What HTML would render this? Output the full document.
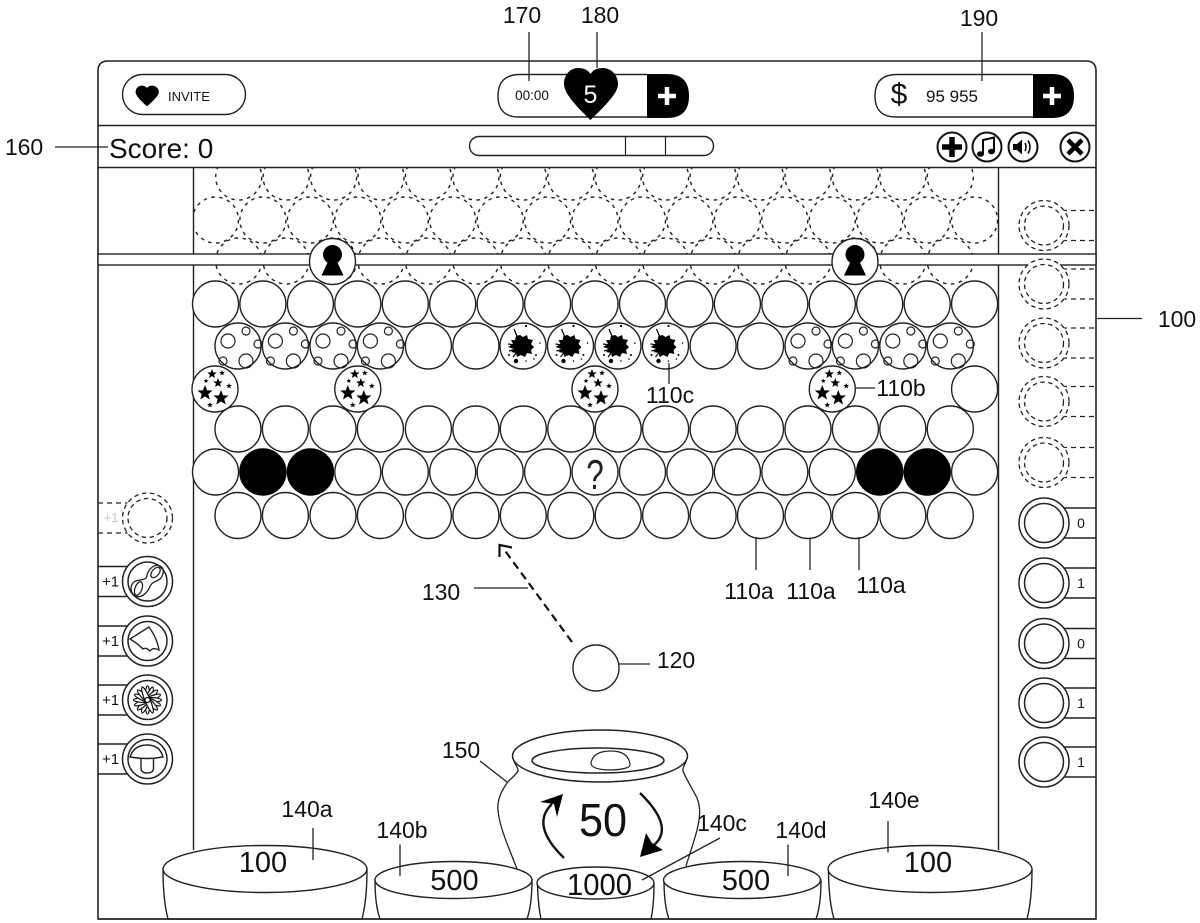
<!DOCTYPE html>
<html lang="en">
<head>
<meta charset="utf-8">
<title>Game diagram</title>
<style>
html,body{margin:0;padding:0;background:#fff}
svg{display:block}
text{font-family:"Liberation Sans",sans-serif;fill:#111}
.l{font-size:23px;text-anchor:middle}
.t{font-size:14px;text-anchor:middle}
.p{font-size:15px;text-anchor:middle}
</style>
</head>
<body>
<svg xmlns="http://www.w3.org/2000/svg" width="1200" height="923" viewBox="0 0 1200 923">
<defs>
<clipPath id="field"><rect x="194" y="168" width="804" height="120"/></clipPath>
<circle id="b" r="23" fill="#fff" stroke="#222" stroke-width="1.4"/>
<circle id="k" r="23" fill="#000" stroke="#000" stroke-width="1.4"/>
<circle id="d" r="23" fill="none" stroke="#222" stroke-width="1.4" stroke-dasharray="3.5 4.5"/>
<polygon id="st" points="0,-1 .26,-.33 .95,-.31 .41,.13 .59,.81 0,.42 -.59,.81 -.41,.13 -.95,-.31 -.26,-.33" fill="#000"/>
<g id="planet">
<use href="#b"/>
<g fill="none" stroke="#222" stroke-width="1.2">
<circle cx="-10" cy="-5" r="7"/><circle cx="8" cy="-15" r="4"/><circle cx="20" cy="-2" r="4"/><circle cx="8" cy="15" r="7"/><circle cx="-15" cy="15" r="4"/>
</g>
</g>
<g id="stars">
<use href="#b"/>
<use href="#st" transform="translate(-3,-15) scale(5)"/>
<use href="#st" transform="translate(3,-6) scale(5)"/>
<use href="#st" transform="translate(-10,4) scale(8)"/>
<use href="#st" transform="translate(6,9) scale(8)"/>
<use href="#st" transform="translate(7,-16) scale(3)"/>
<use href="#st" transform="translate(14,-3) scale(3)"/>
<use href="#st" transform="translate(-5,16) scale(3)"/>
<use href="#st" transform="translate(-9,-8) scale(2.5)"/>
</g>
<g id="splat">
<use href="#b"/>
<polygon fill="#000" points="-3,-11 0,-9 4,-11 5,-7 10,-6 8,-2 11,1 8,4 9,8 4,7 2,11 -2,9 -6,11 -7,7 -12,6 -9,3 -15,1 -10,-2 -12,-6 -8,-6 -7,-10"/>
<path d="M-9,-17 L-4,-5 M-15,-2 L-8,-1 M-14,5 L-7,3 M-10,11 L-6,6" stroke="#000" stroke-width="1.2"/>
<g fill="#000"><circle cx="-7" cy="15" r="2.2"/><circle cx="3" cy="-20" r="1.1"/><circle cx="13" cy="9" r="1"/><circle cx="17" cy="-3" r=".8"/><circle cx="-14" cy="9" r="1"/><circle cx="3" cy="15" r=".8"/><circle cx="11" cy="13" r=".8"/></g>
</g>
<g id="ring">
<circle r="25" fill="#fff" stroke="#222" stroke-width="1.5"/>
<circle r="19.5" fill="#fff" stroke="#222" stroke-width="1.5"/>
</g>
<g id="dring">
<circle r="25" fill="#fff" stroke="#222" stroke-width="1.3" stroke-dasharray="4.5 3.5"/>
<circle r="19.5" fill="#fff" stroke="#222" stroke-width="1.3" stroke-dasharray="4.5 3.5"/>
</g>
<path id="tabR" d="M1062,-15H1096M1062,15H1096" fill="none" stroke="#222" stroke-width="1.4"/>
<path id="dtabR" d="M1062,-15H1096M1062,15H1096" fill="none" stroke="#222" stroke-width="1.2" stroke-dasharray="5 4"/>
<path id="tabL" d="M98,-15H132M98,15H132" fill="none" stroke="#222" stroke-width="1.4"/>
<path id="heart" d="M590.5,120C575,105 564,93 564,84C564,74 571,68 578,68C584,68 588,70 590.5,74C593,70 597,68 603,68C610,68 618,74 618,84C618,93 606,105 590.5,120Z"/>
<g id="lock">
<use href="#b"/>
<circle cy="-7" r="9.5" fill="#000"/>
<polygon points="-3,-3 3,-3 11,14 -11,14" fill="#000"/>
</g>
</defs>

<!-- dashed ghost rows -->
<g clip-path="url(#field)">
<g transform="translate(0,177)"><use href="#d" x="238.7"/><use href="#d" x="286.1"/><use href="#d" x="333.6"/><use href="#d" x="381"/><use href="#d" x="428.4"/><use href="#d" x="475.9"/><use href="#d" x="523.3"/><use href="#d" x="570.8"/><use href="#d" x="618.2"/><use href="#d" x="665.6"/><use href="#d" x="713.1"/><use href="#d" x="760.5"/><use href="#d" x="808"/><use href="#d" x="855.4"/><use href="#d" x="902.8"/><use href="#d" x="950.3"/></g>
<g transform="translate(0,220)"><use href="#d" x="215.5"/><use href="#d" x="262.9"/><use href="#d" x="310.4"/><use href="#d" x="357.8"/><use href="#d" x="405.3"/><use href="#d" x="452.7"/><use href="#d" x="500.2"/><use href="#d" x="547.6"/><use href="#d" x="595"/><use href="#d" x="642.5"/><use href="#d" x="689.9"/><use href="#d" x="737.4"/><use href="#d" x="784.8"/><use href="#d" x="832.3"/><use href="#d" x="879.7"/><use href="#d" x="927.2"/><use href="#d" x="974.6"/></g>
<g transform="translate(0,261)"><use href="#d" x="238.7"/><use href="#d" x="286.1"/><use href="#d" x="333.6"/><use href="#d" x="381"/><use href="#d" x="428.4"/><use href="#d" x="475.9"/><use href="#d" x="523.3"/><use href="#d" x="570.8"/><use href="#d" x="618.2"/><use href="#d" x="665.6"/><use href="#d" x="713.1"/><use href="#d" x="760.5"/><use href="#d" x="808"/><use href="#d" x="855.4"/><use href="#d" x="902.8"/><use href="#d" x="950.3"/></g>
</g>

<!-- frame -->
<path d="M98,919V71Q98,61 108,61H1086Q1096,61 1096,71V919H98Z" fill="none" stroke="#222" stroke-width="1.6"/>
<path d="M98,125.500H1096M98,167.500H1096" stroke="#222" stroke-width="1.5"/>
<path d="M193.500,167V254M193.500,265V850M998.500,167V254M998.500,265V850" stroke="#222" stroke-width="1.4"/>
<rect x="98" y="254" width="998" height="11" fill="#fff" stroke="#222" stroke-width="1.4"/>

<!-- header -->
<rect x="122.500" y="74.500" width="123" height="40" rx="20" fill="#fff" stroke="#222" stroke-width="1.4"/>
<use href="#heart" transform="translate(147,96) scale(.43,.4) translate(-590.5,-94)" fill="#000"/>
<text x="168" y="101" style="font-size:13px">INVITE</text>

<path d="M647,74.500H520Q498,74.500 498,96T520,117H647" fill="#fff" stroke="#222" stroke-width="1.4"/>
<path d="M647,74H667Q689,74 689,96T667,118H647Z" fill="#000"/>
<path d="M667,87V105M658,96H676" stroke="#fff" stroke-width="4.500"/>
<text x="532" y="100" style="font-size:13.500px;text-anchor:middle">00:00</text>
<use href="#heart" fill="#000"/>
<text x="590.500" y="103" style="font-size:25px;text-anchor:middle;fill:#fff">5</text>

<path d="M1033,74.500H897Q875,74.500 875,96T897,117H1033" fill="#fff" stroke="#222" stroke-width="1.4"/>
<path d="M1033,74H1052Q1074,74 1074,96T1052,118H1033Z" fill="#000"/>
<path d="M1052,87V105M1043,96H1061" stroke="#fff" stroke-width="4.500"/>
<text x="899" y="104" style="font-size:30px;text-anchor:middle">$</text>
<text x="952" y="102" style="font-size:17px;text-anchor:middle">95 955</text>

<text x="109" y="158" style="font-size:28px">Score: 0</text>
<rect x="469.500" y="136.500" width="244" height="19" rx="9.500" fill="#fff" stroke="#222" stroke-width="1.4"/>
<path d="M625.500,136V155M665.500,136V155" stroke="#222" stroke-width="1.2"/>

<g fill="#fff" stroke="#111" stroke-width="2">
<circle cx="952" cy="147" r="14.500"/><circle cx="987" cy="147" r="14.500"/><circle cx="1023" cy="147" r="14.500"/><circle cx="1075" cy="147" r="14.500"/>
</g>
<path d="M952,137V157M942,147H962" stroke="#000" stroke-width="5.500"/>
<path d="M1068,140L1082,154M1082,140L1068,154" stroke="#000" stroke-width="4.500"/>
<path d="M983,154V140L994,137.500V151" fill="none" stroke="#000" stroke-width="2"/>
<ellipse cx="980.500" cy="154" rx="3.500" ry="2.800" fill="#000"/><ellipse cx="991.500" cy="151.500" rx="3.500" ry="2.800" fill="#000"/>
<polygon points="1013,144 1017,144 1022,139.500 1022,154.500 1017,150 1013,150" fill="#000"/>
<path d="M1025,143Q1027,147 1025,151M1028,140.500Q1032,147 1028,153.500" fill="none" stroke="#000" stroke-width="1.500"/>

<use href="#lock" x="332.500" y="261.500"/>
<use href="#lock" x="855" y="261.500"/>

<!-- bubble rows -->
<g transform="translate(0,304)"><use href="#b" x="215.5"/><use href="#b" x="262.9"/><use href="#b" x="310.4"/><use href="#b" x="357.8"/><use href="#b" x="405.3"/><use href="#b" x="452.7"/><use href="#b" x="500.2"/><use href="#b" x="547.6"/><use href="#b" x="595"/><use href="#b" x="642.5"/><use href="#b" x="689.9"/><use href="#b" x="737.4"/><use href="#b" x="784.8"/><use href="#b" x="832.3"/><use href="#b" x="879.7"/><use href="#b" x="927.2"/><use href="#b" x="974.6"/></g>
<g transform="translate(0,346)"><use href="#planet" x="238"/><use href="#planet" x="285.400"/><use href="#planet" x="333"/><use href="#planet" x="380.400"/><use href="#b" x="428.4"/><use href="#b" x="475.9"/><use href="#splat" x="523"/><use href="#splat" x="570.500"/><use href="#splat" x="618"/><use href="#splat" x="665.500"/><use href="#b" x="713.1"/><use href="#b" x="760.5"/><use href="#planet" x="808"/><use href="#planet" x="855.400"/><use href="#planet" x="902.800"/><use href="#planet" x="950.300"/></g>
<g transform="translate(0,389)"><use href="#stars" x="215"/><use href="#stars" x="357.800"/><use href="#stars" x="595"/><use href="#stars" x="832.300"/><use href="#b" x="974.6"/></g>
<g transform="translate(0,429)"><use href="#b" x="238"/><use href="#b" x="285.4"/><use href="#b" x="333"/><use href="#b" x="380.4"/><use href="#b" x="428.4"/><use href="#b" x="475.9"/><use href="#b" x="523.3"/><use href="#b" x="570.8"/><use href="#b" x="618.2"/><use href="#b" x="665.6"/><use href="#b" x="713.1"/><use href="#b" x="760.5"/><use href="#b" x="808"/><use href="#b" x="855.4"/><use href="#b" x="902.8"/><use href="#b" x="950.3"/></g>
<g transform="translate(0,472)"><use href="#b" x="215.5"/><use href="#k" x="262.9"/><use href="#k" x="310.4"/><use href="#b" x="357.8"/><use href="#b" x="405.3"/><use href="#b" x="452.7"/><use href="#b" x="500.2"/><use href="#b" x="547.6"/><use href="#b" x="595"/><use href="#b" x="642.5"/><use href="#b" x="689.9"/><use href="#b" x="737.4"/><use href="#b" x="784.8"/><use href="#b" x="832.3"/><use href="#k" x="879.7"/><use href="#k" x="927.2"/><use href="#b" x="974.6"/></g>
<text transform="translate(595,489) scale(.75,1)" style="font-size:42px;text-anchor:middle;fill:#222">?</text>
<g transform="translate(0,515.500)"><use href="#b" x="238"/><use href="#b" x="285.4"/><use href="#b" x="333"/><use href="#b" x="380.4"/><use href="#b" x="428.4"/><use href="#b" x="475.9"/><use href="#b" x="523.3"/><use href="#b" x="570.8"/><use href="#b" x="618.2"/><use href="#b" x="665.6"/><use href="#b" x="713.1"/><use href="#b" x="760.5"/><use href="#b" x="808"/><use href="#b" x="855.4"/><use href="#b" x="902.8"/><use href="#b" x="950.3"/></g>

<!-- right column -->
<g transform="translate(0,225.500)"><use href="#dtabR"/><use href="#dring" x="1044"/></g>
<g transform="translate(0,284)"><use href="#dtabR"/><use href="#dring" x="1044"/></g>
<g transform="translate(0,343)"><use href="#dtabR"/><use href="#dring" x="1044"/></g>
<g transform="translate(0,401.500)"><use href="#dtabR"/><use href="#dring" x="1044"/></g>
<g transform="translate(0,462.500)"><use href="#dtabR"/><use href="#dring" x="1044"/></g>
<g transform="translate(0,523)"><use href="#tabR"/><use href="#ring" x="1044"/><text class="t" x="1081" y="5">0</text></g>
<g transform="translate(0,583)"><use href="#tabR"/><use href="#ring" x="1044"/><text class="t" x="1081" y="5">1</text></g>
<g transform="translate(0,643.500)"><use href="#tabR"/><use href="#ring" x="1044"/><text class="t" x="1081" y="5">0</text></g>
<g transform="translate(0,703)"><use href="#tabR"/><use href="#ring" x="1044"/><text class="t" x="1081" y="5">1</text></g>
<g transform="translate(0,762)"><use href="#tabR"/><use href="#ring" x="1044"/><text class="t" x="1081" y="5">1</text></g>

<!-- left column -->
<g transform="translate(0,518)">
<path d="M98,-15H132M98,15H132" fill="none" stroke="#222" stroke-width="1.2" stroke-dasharray="5 4"/>
<use href="#dring" x="147.500"/>
<text class="t" x="111" y="4" style="fill:#c4c4c4;font-size:13px">+1</text>
</g>
<g transform="translate(0,581.500)"><use href="#tabL"/><use href="#ring" x="147.500"/><text class="p" x="110.500" y="5">+1</text>
<g transform="translate(147.500,0)" fill="none" stroke="#222" stroke-width="1.300">
<path d="M-1,-4C0,-12 6,-17 11,-16C17,-15 17,-8 13,-3C10,0 5,0 3,4C1,9 -4,16 -10,15C-18,13 -18,4 -13,0C-9,-2 -3,-1 -1,-4Z"/>
<ellipse cx="8" cy="-9" rx="3.500" ry="6" transform="rotate(40 8 -9)"/>
<ellipse cx="-9" cy="7" rx="3.500" ry="7" transform="rotate(20 -9 7)"/>
</g>
</g>
<g transform="translate(0,641)"><use href="#tabL"/><use href="#ring" x="147.500"/><text class="p" x="110.500" y="5">+1</text>
<path d="M130,-2L149,-14Q157,-3 159,9Q153,6 150,10Q146,6 143,8Q137,2 130,-2Z" fill="none" stroke="#222" stroke-width="1.400"/>
</g>
<g transform="translate(0,700)"><use href="#tabL"/><use href="#ring" x="147.500"/><text class="p" x="110.500" y="5">+1</text>
<g transform="translate(147.500,0)" fill="#fff" stroke="#111" stroke-width="1.200">
<ellipse rx="2.600" ry="14"/>
<ellipse rx="2.600" ry="14" transform="rotate(22.500)"/>
<ellipse rx="2.600" ry="14" transform="rotate(45)"/>
<ellipse rx="2.600" ry="14" transform="rotate(67.500)"/>
<ellipse rx="2.600" ry="14" transform="rotate(90)"/>
<ellipse rx="2.600" ry="14" transform="rotate(112.500)"/>
<ellipse rx="2.600" ry="14" transform="rotate(135)"/>
<ellipse rx="2.600" ry="14" transform="rotate(157.500)"/>
<circle r="2.500" fill="#fff"/>
</g>
</g>
<g transform="translate(0,759)"><use href="#tabL"/><use href="#ring" x="147.500"/><text class="p" x="110.500" y="5">+1</text>
<path d="M130,-2Q134,-14 147,-14Q160,-14 163,-2Q147,1 130,-2Z" fill="#fff" stroke="#222" stroke-width="1.400"/>
<path d="M141,0V9Q141,14 147,14Q153.500,14 153.500,9V0" fill="none" stroke="#222" stroke-width="1.400"/>
</g>

<!-- shooter -->
<use href="#b" x="596" y="668"/>
<line x1="572" y1="642" x2="503" y2="548" stroke="#111" stroke-width="2.200" stroke-dasharray="8 5"/>
<path d="M499.500,557V545L512,547.500" fill="none" stroke="#111" stroke-width="2.200"/>

<!-- pot -->
<path d="M513,758C514,764 519,768 518,771C515,776 509,780 507,783C500,793 497,802 498,810C499,822 504,836 508,846L517,869L530,890H670L686,866C690,853 694,842 697,830C700,818 701,808 697,798C692,788 685,777 683,771C682,767 686,764 687,758Z" fill="#fff"/>
<path d="M513,758C514,764 519,768 518,771C515,776 509,780 507,783C500,793 497,802 498,810C499,822 504,836 508,846L517,869M687,758C686,764 682,767 683,771C685,777 692,788 697,798C701,808 700,818 697,830C694,842 690,853 686,866" fill="none" stroke="#222" stroke-width="1.300"/>
<ellipse cx="600" cy="756" rx="87.500" ry="26" fill="#fff" stroke="#222" stroke-width="1.500"/>
<ellipse cx="598" cy="760.500" rx="66" ry="12.500" fill="#fff" stroke="#222" stroke-width="1.500"/>
<path d="M591,763Q593,751 611,751Q628,751 630,764Q631,769 612,770Q591,770 591,763Z" fill="#fff" stroke="#222" stroke-width="1.200"/>
<text x="603" y="836" textLength="48" lengthAdjust="spacingAndGlyphs" style="font-size:46px;text-anchor:middle">50</text>
<path d="M564,858Q530,825 552,804" fill="none" stroke="#111" stroke-width="2.400"/>
<polygon points="563,794 540,802 554,804 557,817" fill="#000"/>
<path d="M640,793Q678,830 650,848" fill="none" stroke="#111" stroke-width="2.400"/>
<polygon points="640,857 663,850 652,843 646,833" fill="#000"/>

<!-- buckets -->
<g fill="#fff" stroke="#222" stroke-width="1.400">
<path d="M537.500,884Q538,905 541,919H651Q654,905 654,884Z"/>
<ellipse cx="595.500" cy="883" rx="58.500" ry="16"/>
<path d="M375,880Q375,905 380,919H527Q532,905 532,880Z"/>
<ellipse cx="453.500" cy="880" rx="78.500" ry="18.500"/>
<path d="M664,880Q664,905 669,919H816Q821,905 821,880Z"/>
<ellipse cx="742" cy="880" rx="78.500" ry="18.500"/>
<path d="M163,869Q163,900 168,919H362Q367,900 367,869Z"/>
<ellipse cx="265" cy="869" rx="102" ry="23.500"/>
<path d="M828.500,869Q828.500,900 834,919H1027Q1032,900 1032,869Z"/>
<ellipse cx="930" cy="869" rx="102" ry="23.500"/>
</g>
<path d="M98,919H1096" stroke="#222" stroke-width="1.600"/>
<text x="263" y="872" style="font-size:29px;text-anchor:middle">100</text>
<text x="454.500" y="890" style="font-size:29px;text-anchor:middle">500</text>
<text x="599.500" y="895" textLength="65" lengthAdjust="spacingAndGlyphs" style="font-size:31px;text-anchor:middle">1000</text>
<text x="746" y="890" style="font-size:29px;text-anchor:middle">500</text>
<text x="928" y="872" style="font-size:29px;text-anchor:middle">100</text>

<!-- leader lines -->
<g stroke="#222" stroke-width="1.300" fill="none">
<path d="M529,32V81M597,32V68M982,32V81"/>
<path d="M55,147H108M1096,318.500H1142"/>
<path d="M669,363V384M856,388H875"/>
<path d="M756,537V570M810,538V570M859,537V570"/>
<path d="M474,588H528M619,664H650"/>
<path d="M480,761L507,782"/>
<path d="M313,828V860M400,844.500V876M720,838L642,880M788,844.500V876M888,821V852.500"/>
</g>

<!-- labels -->
<text class="l" x="522" y="23">170</text>
<text class="l" x="600" y="23">180</text>
<text class="l" x="979" y="26">190</text>
<text class="l" x="24" y="155">160</text>
<text class="l" x="1177" y="327">100</text>
<text class="l" x="670" y="403">110c</text>
<text class="l" x="901" y="396">110b</text>
<text class="l" x="749" y="599">110a</text>
<text class="l" x="811" y="599">110a</text>
<text class="l" x="881" y="593">110a</text>
<text class="l" x="441" y="600">130</text>
<text class="l" x="676" y="668">120</text>
<text class="l" x="461" y="758">150</text>
<text class="l" x="307" y="817">140a</text>
<text class="l" x="402" y="838">140b</text>
<text class="l" x="722" y="831">140c</text>
<text class="l" x="801" y="838">140d</text>
<text class="l" x="894" y="808">140e</text>
</svg>
</body>
</html>
